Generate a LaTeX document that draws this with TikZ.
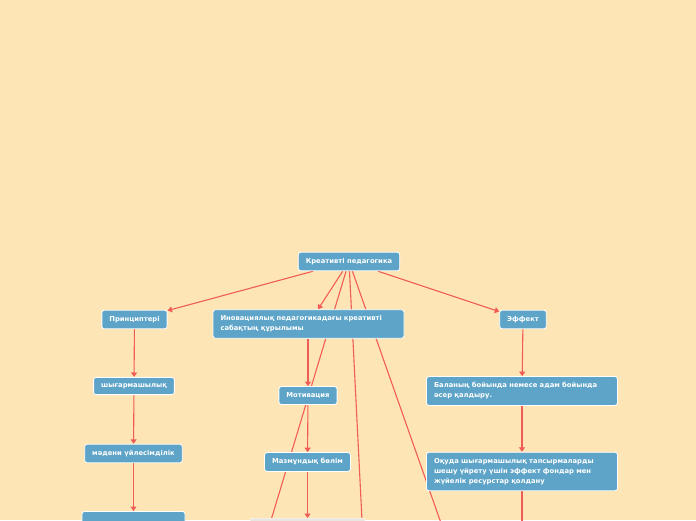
\documentclass[tikz,border=0pt]{standalone}
\usepackage{fontspec}
\setmainfont{DejaVu Sans}
\usetikzlibrary{arrows.meta}
\definecolor{paper}{HTML}{FEE5B6}
\definecolor{topicblue}{HTML}{5DA4C8}
\definecolor{linkred}{HTML}{F05C58}
\definecolor{palegrey}{HTML}{E8E6DE}
\pgfdeclarelayer{paperlayer}
\pgfdeclarelayer{links}
\pgfsetlayers{paperlayer,links,main}
\tikzset{
  topic/.style={draw=white,line width=0.8pt,fill=topicblue,rounded corners=2.5pt,
    text=white,font=\bfseries\fontsize{6.8}{10}\selectfont,
    inner xsep=7.5pt,inner ysep=6pt,align=left},
  link/.style={draw=linkred,line width=1.1pt},
  arr/.style={link,-{Triangle[width=6pt,length=4.5pt]}}
}
\begin{document}
\begin{tikzpicture}[x=1pt,y=-1pt]
\useasboundingbox (0,0) rectangle (696,520);
\begin{pgfonlayer}{paperlayer}
\fill[paper] (0,0) rectangle (696,520);
\end{pgfonlayer}

% Root
\node[topic] (root) at (349,261.5) {Креативті педагогика};

% Principles branch
\node[topic] (princ) at (134.5,319.5) {Принциптері};
\node[topic] (creat) at (134,386) {шығармашылық};
\node[topic] (cult) at (133.5,453.5) {мәдени үйлесімділік};
\node[topic,minimum width=103pt,minimum height=20pt,anchor=north] (princnext) at (133.5,511) {};

% Structure branch
\node[topic,text width=176pt] (innov) at (308.5,324) {Иновациялық педагогикадағы креативті\\сабақтың құрылымы};
\node[topic] (motiv) at (308,395.5) {Мотивация};
\node[topic] (mazmun) at (307.5,462) {Мазмұндық бөлім};
\node[draw=white,fill=palegrey,rounded corners=2.5pt,minimum width=115pt,minimum height=20pt,anchor=north] (mazmunnext) at (307.5,518) {};

% Effect branch
\node[topic] (effect) at (523,319.5) {Эффект};
\node[topic,text width=176pt] (balan) at (522,391) {Баланың бойында немесе адам бойында\\әсер қалдыру.};
\node[topic,text width=176pt] (oqu) at (522,471.5) {Оқуда шығармашылық тапсырмаларды\\шешу үйрету үшін эффект фондар мен\\жүйелік ресурстар қолдану};

% Branches leaving the page
\coordinate (offb) at (259,560);
\coordinate (offc) at (364,560);
\coordinate (offd) at (454,560);
\coordinate (oqunext) at (522,560);

\begin{pgfonlayer}{links}
\draw[arr] (root) -- (princ);
\draw[arr] (root) -- (innov);
\draw[arr] (root) -- (effect);
\draw[link] (root.center) -- (offb);
\draw[link] (root.center) -- (offc);
\draw[link] (root.center) -- (offd);
\draw[arr] (princ) -- (creat);
\draw[arr] (creat) -- (cult);
\draw[arr] (cult) -- (princnext);
\draw[arr] (innov.south -| motiv) -- (motiv);
\draw[arr] (motiv) -- (mazmun);
\draw[arr] (mazmun) -- (mazmunnext);
\draw[arr] (effect) -- (balan);
\draw[arr] (balan) -- (oqu);
\draw[link] (oqu) -- (oqunext);
\end{pgfonlayer}
\end{tikzpicture}
\end{document}
